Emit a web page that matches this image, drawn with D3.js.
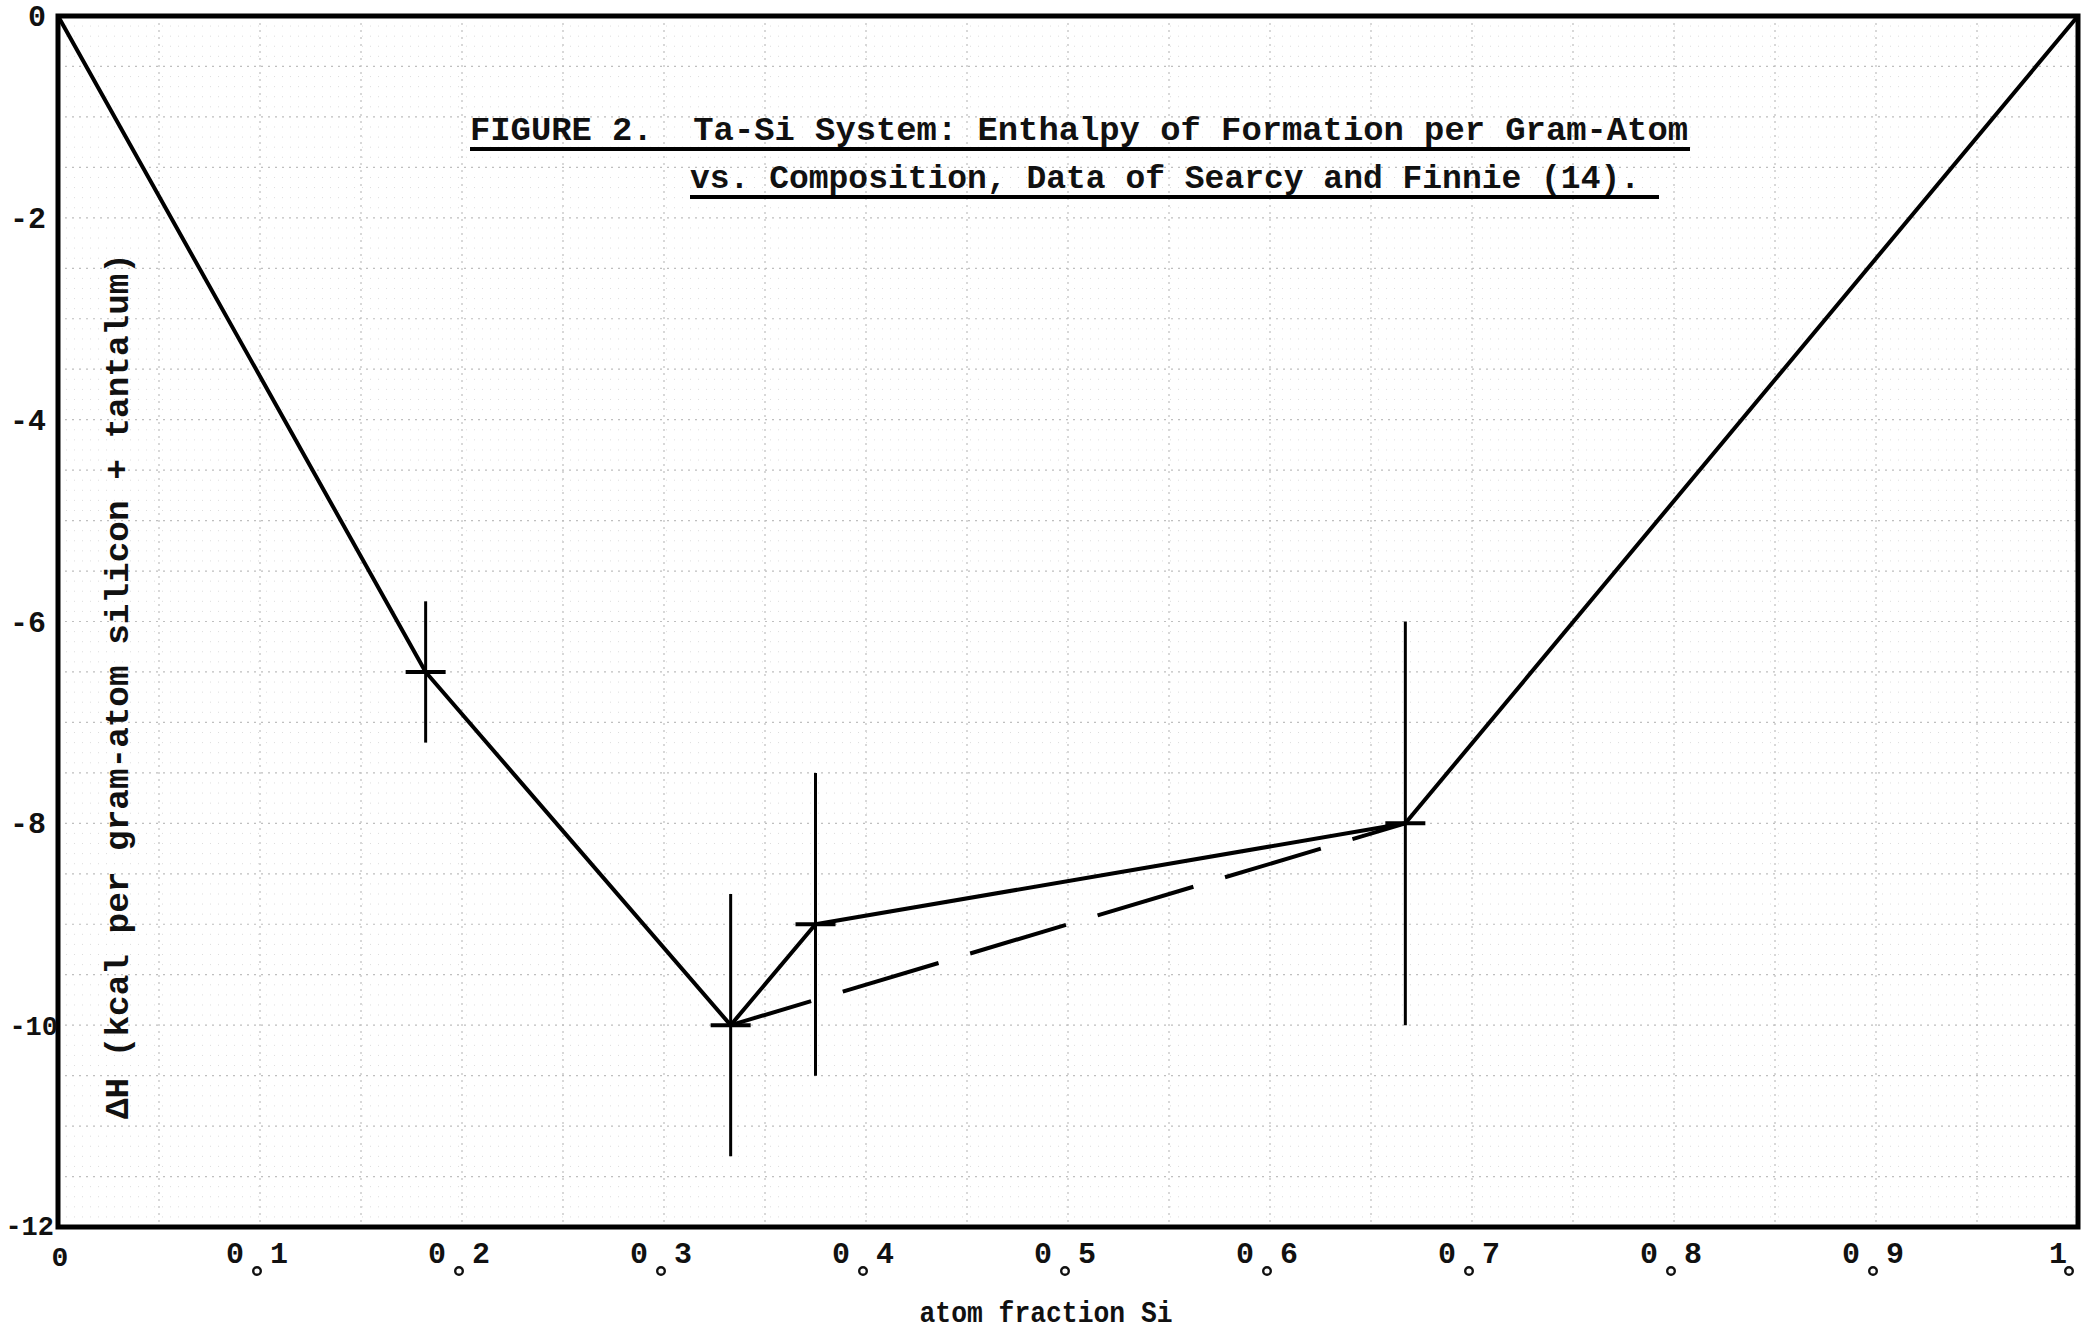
<!DOCTYPE html>
<html>
<head>
<meta charset="utf-8">
<script src="https://cdn.jsdelivr.net/npm/d3@7"></script>
<style>
  html, body { margin: 0; padding: 0; background: #fff; }
  svg { display: block; }
  text { font-family: "Liberation Mono", "DejaVu Sans Mono", monospace; fill: #111; white-space: pre; }
</style>
</head>
<body>
<script>
// ---- data ----
const xFrac = [0, 0.182, 0.333, 0.375, 0.667, 1];          // atom fraction Si
const dH    = [0, -6.5, -10, -9, -8, 0];                     // kcal per gram-atom
const errX      = [0.182, 0.333, 0.375, 0.667];
const errCenter = [-6.5, -10, -9, -8];
const errHalf   = [0.7, 1.3, 1.5, 2.0];
const dashX = [0.333, 0.667];
const dashY = [-10, -8];
const yTicks = [0, -2, -4, -6, -8, -10, -12];
const yTickLabels = ["0", "-2", "-4", "-6", "-8", "-10", "-12"];
const xTicks = [0.1, 0.2, 0.3, 0.4, 0.5, 0.6, 0.7, 0.8, 0.9];
const xTickDigits = ["1", "2", "3", "4", "5", "6", "7", "8", "9"];
const titleLines = ["FIGURE 2.\u00A0\u00A0Ta-Si System: Enthalpy of Formation per Gram-Atom",
                    "vs. Composition, Data of Searcy and Finnie (14)."];
const xLabel = "atom fraction Si";
const yLabel = "\u0394H (kcal per gram-atom silicon + tantalum)";

// ---- layout ----
const W = 2089, H = 1333;
const svg = d3.select("body").append("svg").attr("width", W).attr("height", H);
const x = d3.scaleLinear().domain([0, 1]).range([58, 2078]);
const y = d3.scaleLinear().domain([0, -12]).range([16, 1227]);

// faint graph-paper grid
const grid = svg.append("g").attr("stroke", "#b0b0b0").attr("stroke-width", 1.2)
  .attr("stroke-dasharray", "2,5").attr("opacity", 0.8);
grid.selectAll("line.v").data(d3.range(1, 20).map(i => i * 0.05)).join("line")
  .attr("x1", d => x(d)).attr("x2", d => x(d)).attr("y1", y(0)).attr("y2", y(-12));
grid.selectAll("line.h").data(d3.range(1, 24).map(i => -i * 0.5)).join("line")
  .attr("x1", x(0)).attr("x2", x(1)).attr("y1", d => y(d)).attr("y2", d => y(d));
const grid2 = svg.append("g").attr("stroke", "#d0d0d0").attr("stroke-width", 1)
  .attr("stroke-dasharray", "1,7").attr("opacity", 0.7);
grid2.selectAll("line.h").data(d3.range(1, 120).filter(i => i % 5 !== 0).map(i => -i * 0.1)).join("line")
  .attr("x1", x(0)).attr("x2", x(1)).attr("y1", d => y(d)).attr("y2", d => y(d));

// frame
svg.append("rect").attr("x", x(0)).attr("y", y(0))
  .attr("width", x(1) - x(0)).attr("height", y(-12) - y(0))
  .attr("fill", "none").attr("stroke", "#000").attr("stroke-width", 5);

// main solid curve
const pts = xFrac.map((v, i) => [v, dH[i]]);
svg.append("path").datum(pts)
  .attr("d", d3.line().x(d => x(d[0])).y(d => y(d[1])))
  .attr("fill", "none").attr("stroke", "#000").attr("stroke-width", 4)
  .attr("stroke-linejoin", "round");

// dashed line
svg.append("path").datum(dashX.map((v, i) => [v, dashY[i]]))
  .attr("d", d3.line().x(d => x(d[0])).y(d => y(d[1])))
  .attr("fill", "none").attr("stroke", "#000").attr("stroke-width", 4)
  .attr("stroke-dasharray", "100,33").attr("stroke-dashoffset", 16);

// error bars
const eb = svg.append("g").attr("stroke", "#000");
errX.forEach((v, i) => {
  eb.append("line").attr("x1", x(v)).attr("x2", x(v))
    .attr("y1", y(errCenter[i] + errHalf[i])).attr("y2", y(errCenter[i] - errHalf[i]))
    .attr("stroke-width", 3);
  eb.append("line").attr("x1", x(v) - 20).attr("x2", x(v) + 20)
    .attr("y1", y(errCenter[i])).attr("y2", y(errCenter[i]))
    .attr("stroke-width", 4);
});

// y tick labels
svg.append("g").selectAll("text").data(yTicks).join("text")
  .attr("x", (d, i) => d === -12 ? 54 : (yTickLabels[i].length > 2 ? 58 : 46))
  .attr("y", d => d === -12 ? y(d) + 8 : Math.max(y(d) + 10, 22))
  .attr("text-anchor", "end").attr("font-weight", "bold")
  .attr("font-size", (d, i) => yTickLabels[i].length > 2 ? 27 : 30)
  .text((d, i) => yTickLabels[i]);

// x tick labels (typewriter style: "0", low dot, digit)
const xt = svg.append("g");
xt.selectAll("text.z").data(xTicks).join("text")
  .attr("x", d => x(d) - 25).attr("y", 1263).attr("text-anchor", "middle")
  .attr("font-size", 30).attr("font-weight", "bold").text("0");
xt.selectAll("text.d").data(xTicks).join("text")
  .attr("x", d => x(d) + 19).attr("y", 1263).attr("text-anchor", "middle")
  .attr("font-size", 30).attr("font-weight", "bold").text((d, i) => xTickDigits[i]);
xt.selectAll("circle").data(xTicks.concat([1])).join("circle")
  .attr("cx", d => d === 1 ? x(d) - 9 : x(d) - 3).attr("cy", 1271).attr("r", 3.8)
  .attr("fill", "none").attr("stroke", "#111").attr("stroke-width", 2.4);
xt.append("text").attr("x", x(1) - 20).attr("y", 1263).attr("text-anchor", "middle")
  .attr("font-size", 30).attr("font-weight", "bold").text("1");
xt.append("text").attr("x", x(0) + 2).attr("y", 1266).attr("text-anchor", "middle")
  .attr("font-size", 28).attr("font-weight", "bold").text("0");

// title with underlines
const tl = [{x0: 470, x1: 1688, base: 140, ul: 149, ulEnd: 1690},
            {x0: 690, x1: 1640, base: 188, ul: 197, ulEnd: 1659}];
titleLines.forEach((t, i) => {
  svg.append("text").attr("x", tl[i].x0).attr("y", tl[i].base)
    .attr("font-size", 34).attr("font-weight", "bold")
    .attr("textLength", tl[i].x1 - tl[i].x0).attr("lengthAdjust", "spacingAndGlyphs")
    .text(t);
  svg.append("line").attr("x1", tl[i].x0).attr("x2", tl[i].ulEnd)
    .attr("y1", tl[i].ul).attr("y2", tl[i].ul)
    .attr("stroke", "#000").attr("stroke-width", 4);
});

// axis labels
svg.append("text").attr("transform", "translate(128,686) rotate(-90)")
  .attr("text-anchor", "middle").attr("font-size", 33).attr("font-weight", "bold")
  .attr("textLength", 866).attr("lengthAdjust", "spacingAndGlyphs")
  .text(yLabel);
svg.append("text").attr("x", 1046).attr("y", 1322).attr("text-anchor", "middle")
  .attr("font-size", 30).attr("font-weight", "bold")
  .attr("textLength", 253).attr("lengthAdjust", "spacingAndGlyphs")
  .text(xLabel);
</script>
</body>
</html>
